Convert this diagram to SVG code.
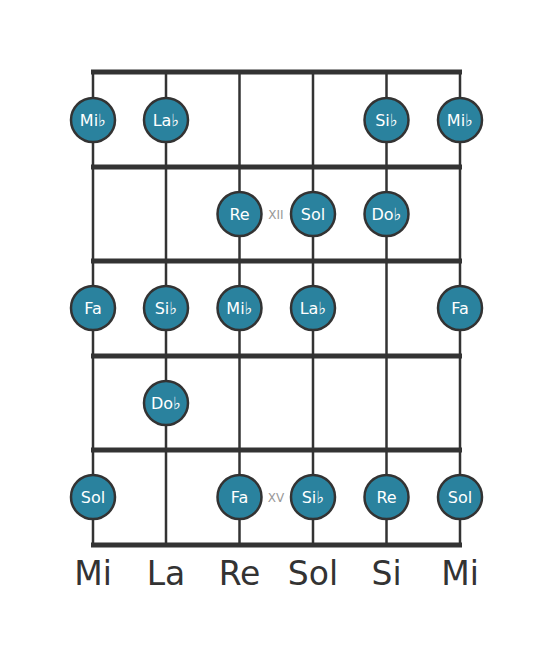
<svg xmlns="http://www.w3.org/2000/svg" width="553" height="656" viewBox="0 0 553 656">
<style>
.str{stroke:#333;stroke-width:2.5}
.fret{stroke:#333;stroke-width:5}
.n circle{fill:#2a829e;stroke:#333;stroke-width:2.5}
.n text{fill:#fff;font-family:"DejaVu Sans",sans-serif;font-size:16px;text-anchor:middle}
.fl{font-size:17px}
.pos{fill:#999;font-family:"DejaVu Sans",sans-serif;font-size:12px;text-anchor:middle}
.lab{fill:#333;font-family:"DejaVu Sans",sans-serif;font-size:33px;text-anchor:middle}
</style>
<rect width="553" height="656" fill="#fff"/>
<g id="connectors">
<line class="str" x1="93" y1="72" x2="93" y2="545"/>
<line class="str" x1="166" y1="72" x2="166" y2="545"/>
<line class="str" x1="239.5" y1="72" x2="239.5" y2="545"/>
<line class="str" x1="313" y1="72" x2="313" y2="545"/>
<line class="str" x1="386.5" y1="72" x2="386.5" y2="545"/>
<line class="str" x1="460" y1="72" x2="460" y2="545"/>
<line class="fret" x1="91" y1="72" x2="462" y2="72"/>
<line class="fret" x1="91" y1="167" x2="462" y2="167"/>
<line class="fret" x1="91" y1="261" x2="462" y2="261"/>
<line class="fret" x1="91" y1="356" x2="462" y2="356"/>
<line class="fret" x1="91" y1="450" x2="462" y2="450"/>
<line class="fret" x1="91" y1="545" x2="462" y2="545"/>
</g>
<g id="n1" class="n"><circle cx="93" cy="120" r="22"/><text x="93" y="126">Mi<tspan class="fl">♭</tspan></text></g>
<g id="n2" class="n"><circle cx="166" cy="120" r="22"/><text x="166" y="126">La<tspan class="fl">♭</tspan></text></g>
<g id="n3" class="n"><circle cx="386.5" cy="120" r="22"/><text x="386.5" y="126">Si<tspan class="fl">♭</tspan></text></g>
<g id="n4" class="n"><circle cx="460" cy="120" r="22"/><text x="460" y="126">Mi<tspan class="fl">♭</tspan></text></g>
<g id="n5" class="n"><circle cx="239.5" cy="214" r="22"/><text x="239.5" y="220">Re</text></g>
<g id="n6" class="n"><circle cx="313" cy="214" r="22"/><text x="313" y="220">Sol</text></g>
<g id="n7" class="n"><circle cx="386.5" cy="214" r="22"/><text x="386.5" y="220">Do<tspan class="fl">♭</tspan></text></g>
<g id="n8" class="n"><circle cx="93" cy="308" r="22"/><text x="93" y="314">Fa</text></g>
<g id="n9" class="n"><circle cx="166" cy="308" r="22"/><text x="166" y="314">Si<tspan class="fl">♭</tspan></text></g>
<g id="n10" class="n"><circle cx="239.5" cy="308" r="22"/><text x="239.5" y="314">Mi<tspan class="fl">♭</tspan></text></g>
<g id="n11" class="n"><circle cx="313" cy="308" r="22"/><text x="313" y="314">La<tspan class="fl">♭</tspan></text></g>
<g id="n12" class="n"><circle cx="460" cy="308" r="22"/><text x="460" y="314">Fa</text></g>
<g id="n13" class="n"><circle cx="166" cy="403" r="22"/><text x="166" y="409">Do<tspan class="fl">♭</tspan></text></g>
<g id="n14" class="n"><circle cx="93" cy="497" r="22"/><text x="93" y="503">Sol</text></g>
<g id="n15" class="n"><circle cx="239.5" cy="497" r="22"/><text x="239.5" y="503">Fa</text></g>
<g id="n16" class="n"><circle cx="313" cy="497" r="22"/><text x="313" y="503">Si<tspan class="fl">♭</tspan></text></g>
<g id="n17" class="n"><circle cx="386.5" cy="497" r="22"/><text x="386.5" y="503">Re</text></g>
<g id="n18" class="n"><circle cx="460" cy="497" r="22"/><text x="460" y="503">Sol</text></g>
<text class="pos" x="276" y="219">XII</text>
<text class="pos" x="276" y="502">XV</text>
<text class="lab" x="93" y="585">Mi</text>
<text class="lab" x="166" y="585">La</text>
<text class="lab" x="239.5" y="585">Re</text>
<text class="lab" x="313" y="585">Sol</text>
<text class="lab" x="386.5" y="585">Si</text>
<text class="lab" x="460" y="585">Mi</text>
</svg>
